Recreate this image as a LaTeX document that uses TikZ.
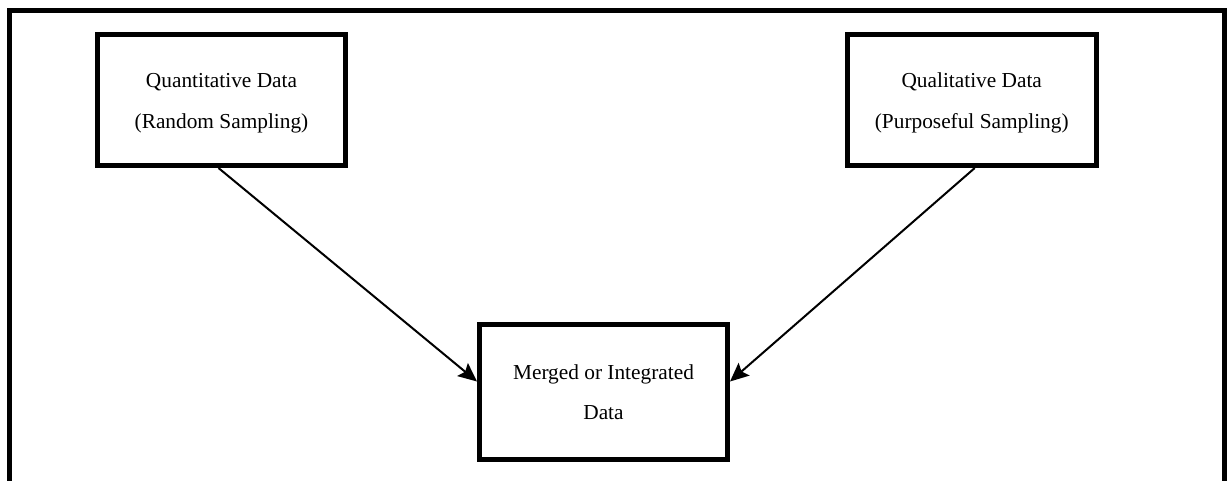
\documentclass[tikz,border=0pt]{standalone}
\usepackage{fontspec}
\setmainfont{Liberation Serif}
\usetikzlibrary{calc,arrows.meta}
\newcommand{\twolines}[3]{\raisebox{#3}{\begin{tabular}{@{}c@{}}#1\\#2\end{tabular}}}
\tikzset{
  box/.style={draw=black, line width=3.75pt, rectangle, fill=white, align=center,
    font=\fontsize{16}{30.5}\selectfont, inner sep=0pt},
  conn/.style={draw=black, line width=1.5pt, -{Stealth[length=14pt,width=12.5pt,inset=2.5pt]}}
}
\begin{document}
\begin{tikzpicture}[x=0.75pt,y=-0.75pt]
\useasboundingbox (0,0) rectangle (1227,481);
\fill[white] (0,0) rectangle (1227,481);
\draw[line width=3.75pt] (9.5,500) -- (9.5,10.5) -- (1224,10.5) -- (1224,500);
\node[box, minimum width=248*0.75pt, minimum height=131*0.75pt] (L) at (221.5,100)
  {\twolines{Quantitative Data}{(Random Sampling)}{-3pt}};
\node[box, minimum width=248.5*0.75pt, minimum height=131*0.75pt] (R) at (971.75,100)
  {\twolines{Qualitative Data}{(Purposeful Sampling)}{-3pt}};
\node[box, minimum width=248*0.75pt, minimum height=135*0.75pt] (M) at (603.5,391.5)
  {\twolines{Merged or Integrated}{Data}{0pt}};
\draw[conn] ($(L.south)+(-3,0)$) -- ($(M.west)+(0,-10)$);
\draw[conn] ($(R.south)+(3,0)$) -- ($(M.east)+(0,-10)$);
\end{tikzpicture}
\end{document}
